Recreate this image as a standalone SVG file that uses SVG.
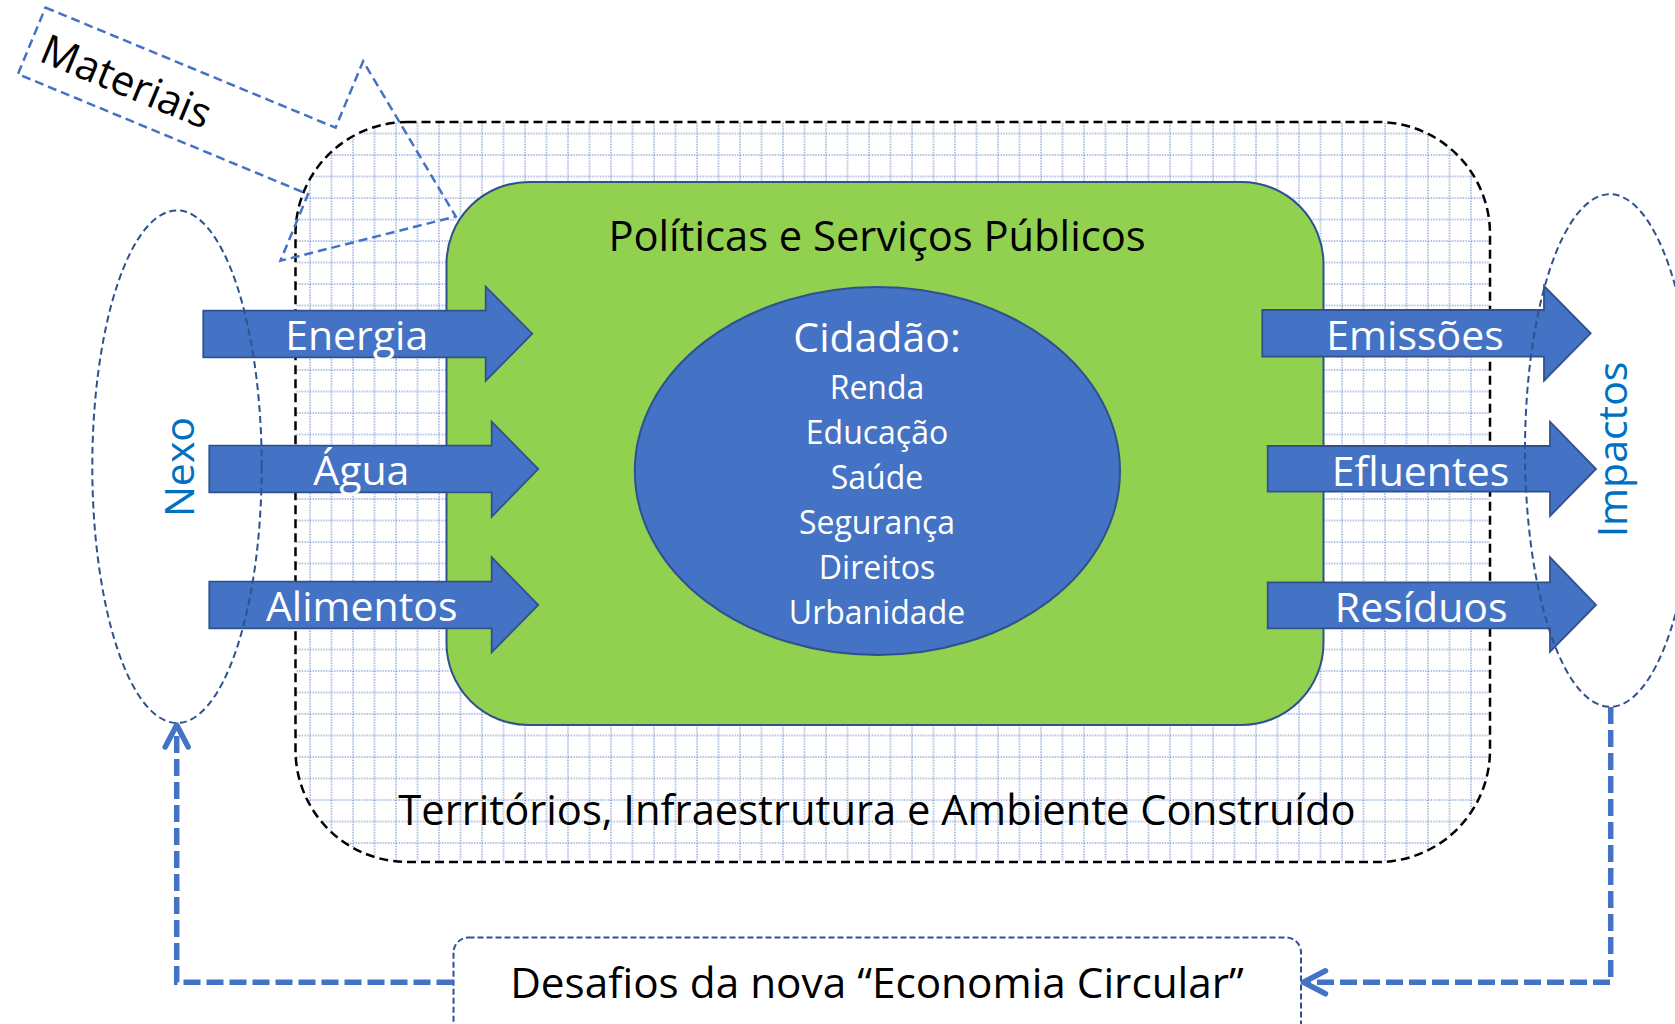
<svg xmlns="http://www.w3.org/2000/svg" width="1675" height="1024" viewBox="0 0 1675 1024">
<defs>
<style>
.t{font-family:"Open Sans","Noto Sans","Liberation Sans",sans-serif;}
.blk{fill:#000;font-size:41.7px;}
.wht{fill:#fff;font-size:41px;text-anchor:middle;}
.sub{fill:#fff;font-size:32px;text-anchor:middle;}
.lbl{fill:#0070C0;font-size:41px;text-anchor:middle;}
.arr{fill:#4472C4;stroke:#2F528F;stroke-width:1.8;}
.ring{fill:none;stroke:#2F528F;stroke-width:2;stroke-dasharray:7 4;}
.con{fill:none;stroke:#4472C4;stroke-width:5.5;stroke-dasharray:17 6;}
</style>
<pattern id="grid" patternUnits="userSpaceOnUse" x="299.25" y="273.25" width="21.5" height="21.5">
<path d="M0,10.75 H21.5 M10.75,0 V21.5" fill="none" stroke="#4472C4" stroke-width="1.5" stroke-dasharray="1.2 1.5" opacity="0.7"/>
</pattern>
<marker id="chev" markerUnits="userSpaceOnUse" viewBox="-30 -15 34 30" markerWidth="34" markerHeight="30" refX="0" refY="0" orient="auto" overflow="visible">
<path d="M-22,-11.5 L0,0 L-22,11.5" fill="none" stroke="#4472C4" stroke-width="5.5" stroke-linecap="round" stroke-linejoin="round"/>
</marker>
</defs>
<rect width="1675" height="1024" fill="#fff"/>

<g id="territorios">
<rect x="295.5" y="122" width="1194.5" height="740" rx="112" ry="112" fill="url(#grid)" stroke="#000" stroke-width="2.5" stroke-dasharray="9 5"/>
<text class="t blk" x="877" y="825" text-anchor="middle">Territórios, Infraestrutura e Ambiente Construído</text>
</g>

<g id="politicas">
<rect x="446.5" y="182" width="877" height="543" rx="82" ry="82" fill="#92D050" stroke="#2F528F" stroke-width="2"/>
<text class="t blk" x="877" y="251" text-anchor="middle">Políticas e Serviços Públicos</text>
</g>

<g id="cidadao">
<ellipse cx="877.4" cy="471" rx="242.6" ry="184" fill="#4472C4" stroke="#2F528F" stroke-width="2"/>
<text class="t wht" x="877" y="351.5">Cidadão:</text>
<text class="t sub" x="877" y="399">Renda</text>
<text class="t sub" x="877" y="444">Educação</text>
<text class="t sub" x="877" y="489">Saúde</text>
<text class="t sub" x="877" y="534">Segurança</text>
<text class="t sub" x="877" y="578.5">Direitos</text>
<text class="t sub" x="877" y="623.5">Urbanidade</text>
</g>

<g id="materiais">
<g transform="translate(31.7,40.8) rotate(22.5)">
<polygon points="0,-36 314,-36 314,-108 459,0 314,108 314,36 0,36" fill="none" stroke="#4472C4" stroke-width="2.5" stroke-dasharray="9 5"/>
<text class="t blk" x="13" y="16">Materiais</text>
</g>
</g>

<g id="energia">
<polygon class="arr" points="203.3,310.7 485.7,310.7 485.7,286.7 532.3,333.7 485.7,380.7 485.7,357.3 203.3,357.3"/>
<text class="t wht" x="356.7" y="350">Energia</text>
</g>
<g id="agua">
<polygon class="arr" points="209.3,445.7 491.7,445.7 491.7,421.7 538.3,469 491.7,516.7 491.7,492.3 209.3,492.3"/>
<text class="t wht" x="361.3" y="485">Água</text>
</g>
<g id="alimentos">
<polygon class="arr" points="209.3,581.7 491.7,581.7 491.7,557.3 538.3,605 491.7,652.3 491.7,628.3 209.3,628.3"/>
<text class="t wht" x="361.7" y="620.7">Alimentos</text>
</g>

<g id="emissoes">
<polygon class="arr" points="1262.3,310 1544,310 1544,286 1590.7,333.3 1544,380.7 1544,356.7 1262.3,356.7"/>
<text class="t wht" x="1415" y="350">Emissões</text>
</g>
<g id="efluentes">
<polygon class="arr" points="1267.7,446 1550,446 1550,421.7 1596,469 1550,516 1550,491.7 1267.7,491.7"/>
<text class="t wht" x="1420.5" y="485.5">Efluentes</text>
</g>
<g id="residuos">
<polygon class="arr" points="1267.7,582.3 1550,582.3 1550,557.3 1596,605 1550,651.7 1550,628.3 1267.7,628.3"/>
<text class="t wht" x="1421.2" y="621.5">Resíduos</text>
</g>

<g id="nexo">
<ellipse class="ring" cx="177" cy="466.7" rx="84.7" ry="256.3"/>
<text class="t lbl" transform="translate(194,467) rotate(-90)">Nexo</text>
</g>

<g id="impactos">
<ellipse class="ring" cx="1610" cy="450.5" rx="85" ry="256.3"/>
<text class="t lbl" transform="translate(1626.7,449.5) rotate(-90)">Impactos</text>
</g>

<g id="desafios">
<rect x="453.5" y="937.5" width="847.5" height="130" rx="15" ry="15" fill="#fff" stroke="#2F528F" stroke-width="2" stroke-dasharray="6 3"/>
<text class="t blk" x="877" y="998" text-anchor="middle" style="font-size:42.3px">Desafios da nova “Economia Circular”</text>
</g>

<g id="connectors">
<path class="con" d="M453.5,982.3 H176.7 V725" marker-end="url(#chev)"/>
<path class="con" d="M1610.7,707 V982.3 H1303.5" marker-end="url(#chev)"/>
</g>
</svg>
